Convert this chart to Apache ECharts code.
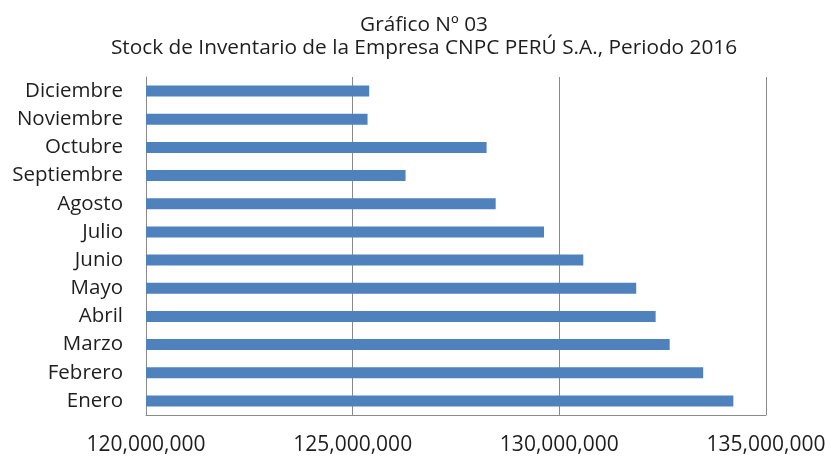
<!DOCTYPE html>
<html>
<head>
<meta charset="utf-8">
<script src="https://cdn.jsdelivr.net/npm/echarts@6/dist/echarts.min.js"></script>
<style>
  html, body { margin: 0; padding: 0; background: #fff; }
  #chart { width: 830px; height: 456px; }
</style>
</head>
<body>
<div id="chart"></div>
<script>
// meses, de abajo (Enero) hacia arriba (Diciembre)
const meses = ['Enero', 'Febrero', 'Marzo', 'Abril', 'Mayo', 'Junio',
  'Julio', 'Agosto', 'Septiembre', 'Octubre', 'Noviembre', 'Diciembre'];
const stock = [134210000, 133480000, 132670000, 132330000, 131860000, 130580000,
  129630000, 128460000, 126280000, 128240000, 125360000, 125400000];
const ejeMin = 120000000;
const ejeMax = 135000000;
const ejeIntervalo = 5000000;

const gris = '#8a8a8a';
const fuente = '"Open Sans", sans-serif';

const chart = echarts.init(document.getElementById('chart'));

const option = {
  animation: false,
  title: {
    text: 'Gráfico Nº 03\nStock de Inventario de la Empresa CNPC PERÚ S.A., Periodo 2016',
    left: 419,
    top: 9,
    textAlign: 'center',
    textStyle: {
      fontFamily: fuente,
      fontSize: 20.8,
      fontWeight: 'normal',
      color: '#1e1e1e',
      lineHeight: 23
    }
  },
  grid: {
    left: 146,
    right: 64,
    top: 77,
    bottom: 40,
    containLabel: false
  },
  xAxis: {
    type: 'value',
    min: ejeMin,
    max: ejeMax,
    interval: ejeIntervalo,
    axisLine: { show: true, lineStyle: { color: gris, width: 1 } },
    axisTick: { show: false },
    splitLine: { show: true, lineStyle: { color: gris, width: 1 } },
    axisLabel: {
      margin: 20,
      fontFamily: fuente,
      fontSize: 21,
      color: '#1e1e1e',
      formatter: v => v.toLocaleString('en-US')
    }
  },
  yAxis: {
    type: 'category',
    data: meses,
    axisLine: { show: true, lineStyle: { color: gris, width: 1 } },
    axisTick: { show: false },
    axisLabel: {
      margin: 23,
      fontFamily: fuente,
      fontSize: 20.5,
      color: '#1e1e1e'
    }
  },
  series: [
    {
      type: 'bar',
      data: stock,
      barWidth: 11,
      itemStyle: { color: '#4f81bd' }
    }
  ]
};

chart.setOption(option);
</script>
</body>
</html>
